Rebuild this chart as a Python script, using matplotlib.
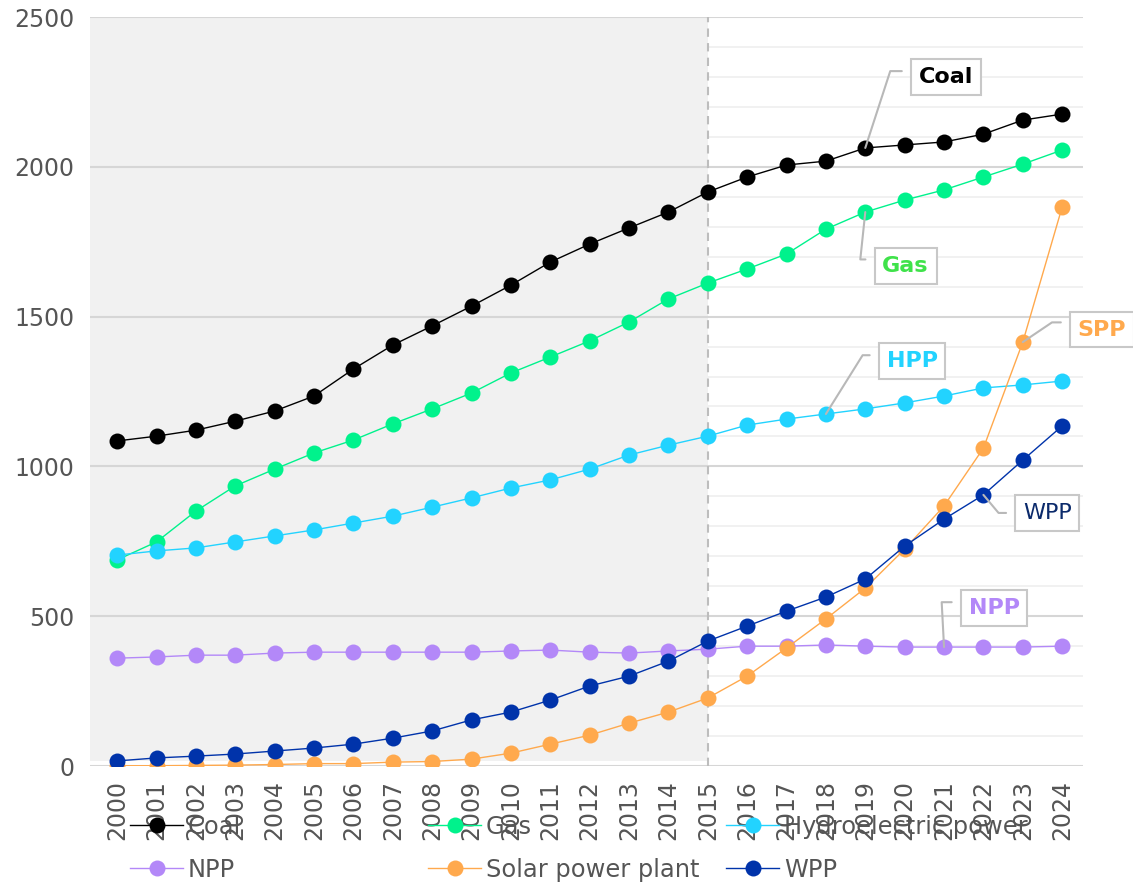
import numpy as np
import matplotlib.pyplot as plt
from matplotlib.lines import Line2D

years = list(range(2000, 2025))

coal = [1085, 1101, 1121, 1151, 1185, 1235, 1325, 1405, 1469, 1535, 1605, 1682, 1742,
        1796, 1849, 1916, 1966, 2006, 2019, 2063, 2073, 2083, 2109, 2156, 2176]
gas = [688, 748, 851, 935, 991, 1045, 1088, 1142, 1192, 1245, 1312, 1365, 1419,
       1482, 1559, 1612, 1659, 1709, 1792, 1849, 1889, 1923, 1966, 2009, 2056]
hydro = [704, 718, 728, 748, 768, 788, 811, 834, 864, 895, 928, 955, 991,
         1038, 1071, 1101, 1138, 1158, 1175, 1192, 1212, 1235, 1262, 1272, 1285]
npp = [360, 364, 370, 370, 377, 380, 380, 380, 380, 380, 384, 387, 380,
       377, 384, 390, 400, 400, 404, 400, 397, 397, 397, 397, 400]
solar = [1, 1, 2, 3, 5, 8, 8, 13, 15, 23, 43, 73, 103,
         143, 180, 227, 300, 394, 491, 594, 724, 868, 1061, 1415, 1866]
wind = [17, 27, 33, 40, 50, 60, 73, 93, 117, 154, 180, 220, 267,
        300, 350, 417, 467, 517, 564, 624, 734, 824, 905, 1021, 1135]

names = ['Coal', 'Gas', 'Hydroelectric power', 'NPP', 'Solar power plant', 'WPP']
colors = ['#000000', '#00F28C', '#22D3FF', '#B388F8', '#FFA94D', '#0033AA']
series = [coal, gas, hydro, npp, solar, wind]

# callout labels: series index, year, text, colour, bold, offset (pt), connector angle, anchor height
callouts = [
    (0, 2019, 'Coal', '#000000', True, (58, 51), 72, 0.8),
    (1, 2019, 'Gas', '#3FE24A', True, (29, -39), 84, 0.84),
    (2, 2018, 'HPP', '#22D3FF', True, (62, 38), 58, 0.8),
    (4, 2023, 'SPP', '#FFA94D', True, (57, 9), 34, 0.86),
    (5, 2022, 'WPP', '#0B2A6B', False, (46, -13), 130, 0.5),
    (3, 2021, 'NPP', '#B388F8', True, (36, 28), 93, 0.8),
]

fig = plt.figure(figsize=(11.33, 8.82), dpi=100)
ax = fig.add_axes([0.0794, 0.1315, 0.8765, 0.8492])

ax.set_xlim(1999.31, 2024.53)
ax.set_ylim(0, 2500)

# grid: faint minor lines, shaded history span, major lines on top
for v in np.arange(100, 2500, 100):
    if v % 500:
        ax.axhline(v, color='#efefef', lw=1.2, zorder=0)
ax.axvspan(1999.31, 2015, ymin=0.007, ymax=1, color='#f1f1f1', lw=0, zorder=0.5)
for v in np.arange(0, 2501, 500):
    ax.axhline(v, color='#d6d6d6', lw=1.5, zorder=1)
ax.axvline(2015, color='#bdbdbd', lw=1.5, ls=(0, (4, 3)), zorder=1.5)

for name, col, vals in zip(names, colors, series):
    ax.plot(years, vals, color=col, lw=1, marker='o', ms=11.5, mew=0,
            label=name, zorder=3)

for idx, yr, txt, tcol, bold, off, ang, ry in callouts:
    y = series[idx][years.index(yr)]
    ax.annotate(txt, xy=(yr, y), xytext=off, textcoords='offset points',
                fontsize=16, fontweight='bold' if bold else 'normal', color=tcol,
                ha='center', va='center', zorder=5,
                bbox=dict(boxstyle='square,pad=0.35', fc='white', ec='#c8c8c8', lw=1.5),
                arrowprops=dict(arrowstyle='-', color='#b8b8b8', lw=1.5,
                                shrinkA=6, shrinkB=0, relpos=(0, ry),
                                connectionstyle=f'angle,angleA=0,angleB={ang},rad=0'))

ax.set_yticks([0, 500, 1000, 1500, 2000, 2500])
ax.set_xticks(years)
ax.set_xticklabels([str(y) for y in years], rotation=90)
ax.tick_params(length=0, labelsize=17, labelcolor='#555555')
ax.tick_params(axis='y', pad=11)
ax.tick_params(axis='x', pad=10)
for s in ax.spines.values():
    s.set_visible(False)
ax.set_facecolor('none')

# legend, three fixed-width columns under the axis
handles = [Line2D([], [], color=c, lw=1, marker='o', ms=11.5, mew=0) for c in colors]
col_x = [130 / 1133, 428 / 1133, 726 / 1133]
for i, x0 in enumerate(col_x):
    fig.legend([handles[i], handles[i + 3]], [names[i], names[i + 3]],
               loc='upper left', bbox_to_anchor=(x0, 0.0765), frameon=False,
               fontsize=17.4, labelcolor='#555555', handlelength=2.2,
               handletextpad=0.2, borderpad=0, borderaxespad=0, labelspacing=0.8)

fig.savefig('out.png', dpi=100)
